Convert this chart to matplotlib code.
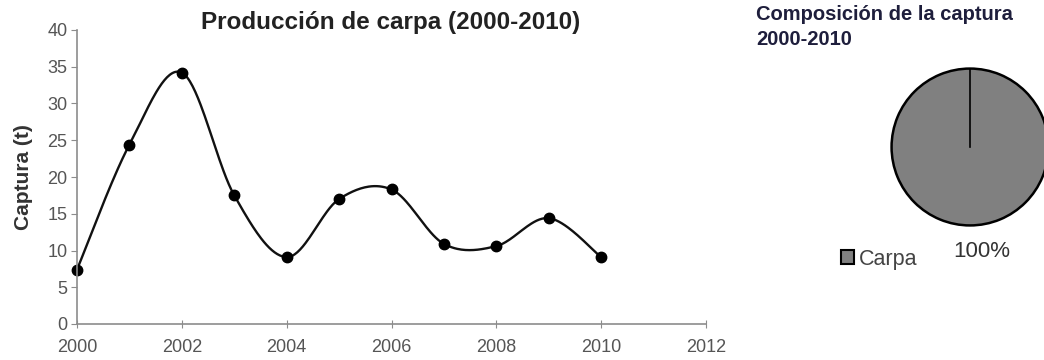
import numpy as np
import matplotlib.pyplot as plt
from matplotlib.patches import Patch

years = [2000, 2001, 2002, 2003, 2004, 2005, 2006, 2007, 2008, 2009, 2010]
captura = [7.4, 24.4, 34.2, 17.5, 9.1, 17.0, 18.3, 10.9, 10.6, 14.4, 9.1]

pie_labels = ["Carpa"]
pie_values = [100]

plt.rcParams['font.family'] = ['Liberation Sans', 'DejaVu Sans']


def smooth_curve(x, y, n=40):
    # Excel-like smoothed line: cubic Bezier segments with Catmull-Rom controls
    x = np.asarray(x, float)
    y = np.asarray(y, float)
    pts = np.column_stack([x, y])
    ext = np.vstack([pts[0], pts, pts[-1]])
    out = []
    t = np.linspace(0, 1, n)[:, None]
    for i in range(len(pts) - 1):
        p0, p3 = ext[i + 1], ext[i + 2]
        p1 = p0 + (ext[i + 2] - ext[i]) / 6
        p2 = p3 - (ext[i + 3] - ext[i + 1]) / 6
        seg = ((1 - t) ** 3) * p0 + 3 * ((1 - t) ** 2) * t * p1 \
            + 3 * (1 - t) * t ** 2 * p2 + t ** 3 * p3
        out.append(seg if i == 0 else seg[1:])
    seg = np.vstack(out)
    return seg[:, 0], seg[:, 1]


fig = plt.figure(figsize=(10.44, 3.6), dpi=100)

ax = fig.add_axes([77 / 1044, 36 / 360, 629 / 1044, 294 / 360])
sx, sy = smooth_curve(years, captura)
ax.plot(sx, sy, color="#111111", linewidth=1.7, clip_on=False)
ax.plot(years, captura, linestyle="none", marker="o", markersize=7.5,
        color="#000000", clip_on=False)
ax.set_xlim(2000, 2012)
ax.set_ylim(0, 40)
ax.set_xticks(range(2000, 2013, 2))
ax.set_yticks(range(0, 41, 5))
for side in ["top", "right"]:
    ax.spines[side].set_visible(False)
for side in ["left", "bottom"]:
    ax.spines[side].set_color("#8c8c8c")
    ax.spines[side].set_linewidth(1.2)
ax.tick_params(axis="y", direction="out", length=4, color="#8c8c8c",
               labelsize=13, labelcolor="#555555", pad=3)
ax.tick_params(axis="x", direction="inout", length=6, color="#8c8c8c",
               labelsize=13, labelcolor="#555555", pad=8)
ax.set_ylabel("Captura (t)", fontsize=15, fontweight="bold",
              color="#333333", labelpad=10)
fig.text(391 / 1044, 1 - 22 / 360, "Producción de carpa (2000-2010)",
         fontsize=17.5, fontweight="bold", color="#222222",
         ha="center", va="center")

# pie chart
pax = fig.add_axes([890 / 1044, (360 - 227) / 360, 160 / 1044, 160 / 360])
wedges, texts, autotexts = pax.pie(
    pie_values, colors=["#808080"], startangle=90, radius=1,
    wedgeprops=dict(edgecolor="#000000", linewidth=1.8),
    autopct="%1.0f%%", pctdistance=1.33,
    textprops=dict(fontsize=16, color="#333333"))
pax.plot([0, 0], [0, 1], color="#000000", linewidth=1.2)
pax.set_xlim(-1.02, 1.02)
pax.set_ylim(-1.02, 1.02)
pax.set_aspect("equal")
pax.axis("off")
for w in wedges:
    w.set_clip_on(False)
for t in autotexts:
    t.set_clip_on(False)
    t.set_x(0.15)

fig.text(756 / 1044, 1 - 27 / 360, "Composición de la captura\n2000-2010",
         fontsize=14.5, fontweight="bold", color="#1e1e3c",
         ha="left", va="center", linespacing=1.35)

handles = [Patch(facecolor="#808080", edgecolor="#000000", linewidth=1.5)]
fig.legend(handles, pie_labels, loc="center left",
           bbox_to_anchor=(822 / 1044, 1 - 259 / 360), frameon=False,
           fontsize=15.5, handlelength=0.6, handleheight=0.6,
           handletextpad=0.2, labelcolor="#444444")

fig.savefig("out.png", dpi=100)
